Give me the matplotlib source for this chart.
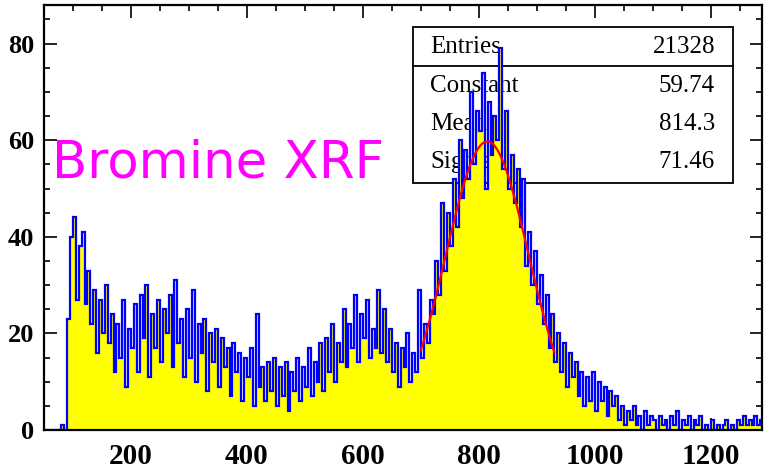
import numpy as np
import matplotlib.pyplot as plt
from matplotlib.patches import Rectangle
from matplotlib.ticker import MultipleLocator

# channel histogram, 5-channel bins starting at 50
bin_start = 50
bin_width = 5
counts = [
    0, 0, 0, 0, 0, 0, 1, 0,
    # 90
    23, 40, 44, 27, 38, 41, 26, 33, 22, 29,
    # 140
    16, 27, 20, 30, 18, 24, 12, 22, 15, 27,
    # 190
    9, 21, 17, 26, 12, 28, 19, 30, 11, 24,
    # 240
    17, 27, 14, 25, 20, 28, 13, 31, 18, 23,
    # 290
    11, 25, 15, 29, 10, 22, 16, 23, 8, 20,
    # 340
    14, 21, 9, 19, 13, 17, 7, 18, 12, 16,
    # 390
    6, 15, 11, 17, 5, 24, 9, 13, 6, 14,
    # 440
    8, 15, 5, 13, 7, 14, 4, 12, 8, 15,
    # 490
    6, 13, 9, 17, 7, 14, 10, 18, 8, 19,
    # 540
    12, 22, 10, 18, 14, 25, 13, 22, 17, 28,
    # 590
    14, 24, 19, 27, 15, 21, 17, 29, 16, 25,
    # 640
    14, 21, 12, 18, 9, 17, 13, 20, 10, 16,
    # 690
    12, 29, 15, 22, 18, 27, 24, 35, 28, 47,
    # 740
    33, 45, 38, 52, 42, 60, 48, 58, 52, 70,
    # 790
    55, 66, 62, 74, 50, 68, 57, 65, 60, 79,
    # 840
    54, 66, 50, 57, 47, 54, 42, 52, 34, 41,
    # 890
    30, 37, 26, 32, 22, 28, 17, 24, 14, 20,
    # 940
    12, 18, 9, 16, 11, 14, 7, 12, 5, 11,
    # 990
    6, 12, 4, 10, 6, 9, 3, 8, 5, 7,
    # 1040
    2, 5, 1, 4, 2, 5, 1, 3, 0, 4,
    # 1090
    1, 3, 2, 0, 3, 1, 2, 0, 3, 1,
    # 1140
    4, 0, 2, 1, 3, 0, 2, 1, 3, 0,
    # 1190
    1, 0, 2, 0, 1, 0, 1, 2, 0, 1,
    # 1240
    0, 2, 1, 3, 1, 2, 1, 3, 1, 2,
]
edges = bin_start + bin_width * np.arange(len(counts) + 1)

# gaussian fit result shown in the stats box
fit_const = 59.74
fit_mean = 814.3
fit_sigma = 71.46
fit_range = (700, 930)

stats_labels = ['Entries', 'Constant', 'Mean', 'Sigma']
stats_values = ['21328', '59.74', '814.3', '71.46']

fig = plt.figure(figsize=(7.66, 4.71), dpi=100)
ax = fig.add_axes([44/766, 41/471, 718/766, 425/471])

# stats box sits under the histogram
box = Rectangle((686, 51.1), 552, 32.3, facecolor='white', edgecolor='black',
                lw=1.3, zorder=1)
ax.add_patch(box)
ax.plot([686, 1238], [75.3, 75.3], color='black', lw=1.3, zorder=1)
row_y = [79.2, 71.3, 63.3, 55.5]
for lab, val, y in zip(stats_labels, stats_values, row_y):
    ax.text(716, y, lab, ha='left', va='center', fontsize=18,
            family='Liberation Serif', zorder=1)
    ax.text(1207, y, val, ha='right', va='center', fontsize=18,
            family='Liberation Serif', zorder=1)

ax.stairs(counts, edges, fill=True, color='#ffff00', zorder=2)
ax.stairs(counts, edges, color='#0000ff', lw=1.6, zorder=3)

xf = np.linspace(fit_range[0], fit_range[1], 300)
yf = fit_const * np.exp(-0.5 * ((xf - fit_mean) / fit_sigma) ** 2)
ax.plot(xf, yf, color='red', lw=1.6, zorder=4)

ax.text(64, 52.2, 'Bromine XRF', color='#ff00ff', fontsize=37,
        family='DejaVu Sans', ha='left', va='baseline', zorder=5)

ax.set_xlim(50, 1288)
ax.set_ylim(0, 88)
ax.xaxis.set_major_locator(MultipleLocator(200))
ax.xaxis.set_minor_locator(MultipleLocator(50))
ax.yaxis.set_major_locator(MultipleLocator(20))
ax.yaxis.set_minor_locator(MultipleLocator(5))
ax.tick_params(which='both', direction='in', top=True, right=True, width=1.2)
ax.tick_params(which='major', length=9)
ax.tick_params(which='minor', length=4.5)
ax.tick_params(axis='y', pad=7)
ax.tick_params(axis='x', pad=9)
for lab in ax.get_xticklabels():
    lab.set_fontfamily('Liberation Serif')
    lab.set_fontweight('bold')
    lab.set_fontsize(21)
for lab in ax.get_yticklabels():
    lab.set_fontfamily('Liberation Serif')
    lab.set_fontweight('bold')
    lab.set_fontsize(19)
for sp in ax.spines.values():
    sp.set_linewidth(1.6)
    sp.set_zorder(6)

fig.savefig('out.png', dpi=100)
